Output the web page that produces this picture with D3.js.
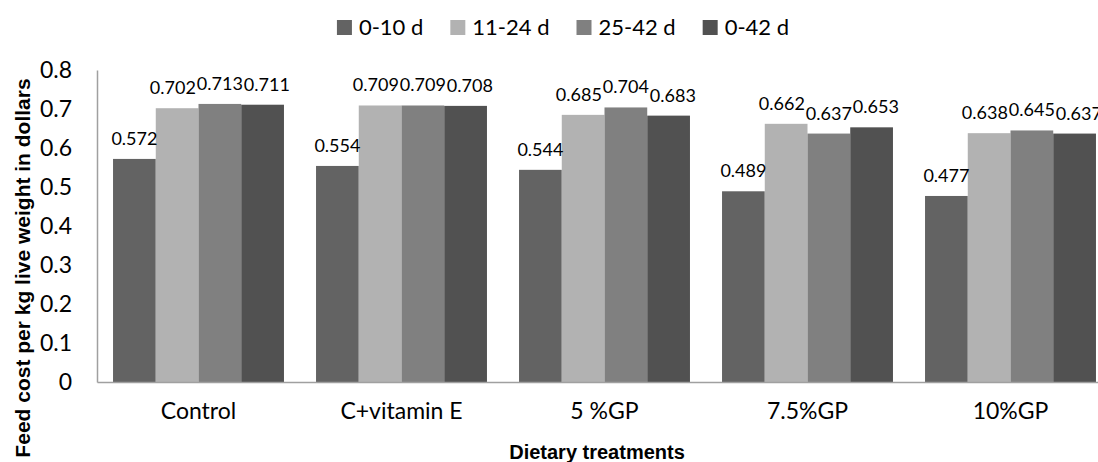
<!DOCTYPE html>
<meta charset="utf-8">
<script src="https://d3js.org/d3.v7.min.js"></script>
<style>
  body { margin: 0; background: #fff; }
  text { font-family: Lato, "Open Sans", sans-serif; fill: #000; }
</style>
<div id="chart"></div>
<script>
    // chart data
    var categories = ["Control", "C+vitamin E", "5 %GP", "7.5%GP", "10%GP"];
    var seriesNames = ["0-10 d", "11-24 d", "25-42 d", "0-42 d"];
    var d0_10 = [0.572, 0.554, 0.544, 0.489, 0.477];
    var d11_24 = [0.702, 0.709, 0.685, 0.662, 0.638];
    var d25_42 = [0.713, 0.709, 0.704, 0.637, 0.645];
    var d0_42 = [0.711, 0.708, 0.683, 0.653, 0.637];
    var yTicks = [0, 0.1, 0.2, 0.3, 0.4, 0.5, 0.6, 0.7, 0.8];

    var seriesValues = [d0_10, d11_24, d25_42, d0_42];
    var colors = ["#636363", "#b2b2b2", "#808080", "#515151"];

    var W = 1098, H = 462;
    var plotLeft = 97, plotRight = 1112, plotTop = 70, plotBottom = 382;

    var svg = d3.select("#chart")
        .append("svg")
        .attr("width", W)
        .attr("height", H);

    // scales
    var x = d3.scaleBand()
        .domain(categories)
        .range([plotLeft, plotRight])
        .paddingInner(0.158)
        .paddingOuter(0.079);

    var xInner = d3.scaleBand()
        .domain(seriesNames)
        .range([0, x.bandwidth()]);

    var y = d3.scaleLinear()
        .domain([0, 0.8])
        .range([plotBottom, plotTop]);

    // table built from arrays
    var rows = [];
    categories.forEach(function (c, i) {
        seriesNames.forEach(function (s, j) {
            rows.push({ cat: c, series: s, value: seriesValues[j][i], color: colors[j] });
        });
    });

    // bars
    svg.selectAll("rect.bar")
        .data(rows)
        .enter()
        .append("rect")
        .attr("class", "bar")
        .attr("x", d => x(d.cat) + xInner(d.series))
        .attr("y", d => y(d.value))
        .attr("width", xInner.bandwidth())
        .attr("height", d => y(0) - y(d.value))
        .attr("fill", d => d.color);

    // value labels
    var labels = svg.selectAll("text.value")
        .data(rows)
        .enter()
        .append("text")
        .attr("class", "value")
        .attr("x", d => x(d.cat) + xInner(d.series) + xInner.bandwidth() / 2)
        .attr("y", d => y(d.value) - 14)
        .attr("text-anchor", "middle")
        .style("font-size", "18px")
        .text(d => d3.format(".3f")(d.value));

    // push neighbouring labels apart sideways when they collide (like Excel does)
    labels.each(function (d) {
        d.lx = +d3.select(this).attr("x");
        d.ly = +d3.select(this).attr("y");
        d.w = this.getComputedTextLength();
    });
    categories.forEach(function (c) {
        var grp = rows.filter(r => r.cat === c);
        for (var it = 0; it < 20; it++) {
            for (var k = 1; k < grp.length; k++) {
                var a = grp[k - 1], b = grp[k];
                if (Math.abs(a.ly - b.ly) > 17) continue;
                var overlap = (a.lx + a.w / 2 + 1) - (b.lx - b.w / 2);
                if (overlap > 0) {
                    a.lx -= overlap / 2;
                    b.lx += overlap / 2;
                }
            }
        }
    });
    labels.attr("x", d => d.lx);

    // y axis
    var yAxis = svg.append("g")
        .attr("transform", "translate(" + plotLeft + ",0)")
        .call(d3.axisLeft(y).tickValues(yTicks).tickSize(0).tickPadding(25)
            .tickFormat(d => d === 0 ? "0" : d3.format(".1f")(d)));
    yAxis.select(".domain").attr("stroke", "#a0a0a0").attr("stroke-width", 1.5);
    yAxis.selectAll("text")
        .style("font-size", "23px")
        .style("font-family", "Lato, sans-serif")
        .attr("fill", "#000");

    // x axis
    var xAxis = svg.append("g")
        .attr("transform", "translate(0," + plotBottom + ")")
        .call(d3.axisBottom(x).tickSize(0).tickPadding(21));
    xAxis.select(".domain").attr("stroke", "#a0a0a0").attr("stroke-width", 1.5);
    xAxis.selectAll("text")
        .style("font-size", "23px")
        .style("font-family", "Lato, sans-serif")
        .attr("fill", "#000");

    // axis titles
    svg.append("text")
        .attr("x", 597)
        .attr("y", 459)
        .attr("text-anchor", "middle")
        .style("font-family", "'Liberation Sans', Arial, sans-serif")
        .style("font-weight", "bold")
        .style("font-size", "20px")
        .text("Dietary treatments");

    svg.append("text")
        .attr("transform", "translate(30,268) rotate(-90)")
        .attr("text-anchor", "middle")
        .style("font-family", "'Liberation Sans', Arial, sans-serif")
        .style("font-weight", "bold")
        .style("font-size", "21px")
        .text("Feed cost per kg live weight in dollars");

    // legend
    var legend = svg.append("g");
    var lx = 0;
    seriesNames.forEach(function (s, j) {
        var g = legend.append("g").attr("transform", "translate(" + lx + ",0)");
        g.append("rect")
            .attr("x", 0).attr("y", 20)
            .attr("width", 15).attr("height", 15)
            .attr("fill", colors[j]);
        var t = g.append("text")
            .attr("x", 22).attr("y", 35)
            .style("font-size", "22px")
            .text(s);
        lx += 22 + t.node().getComputedTextLength() + 27;
    });
    var lw = lx - 27;
    legend.attr("transform", "translate(" + (563 - lw / 2) + ",0)");
</script>
